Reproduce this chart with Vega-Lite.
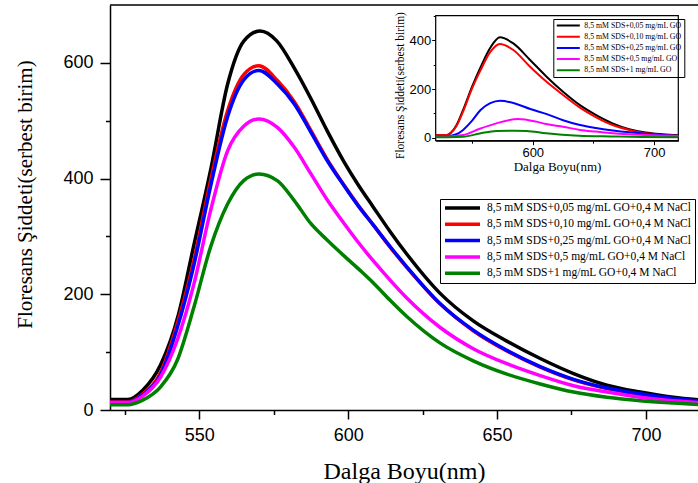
{
  "$schema": "https://vega.github.io/schema/vega-lite/v6.json",
  "width": 588,
  "height": 405,
  "autosize": {"type": "none"},
  "padding": {"left": 110, "top": 5, "right": 0, "bottom": 73},
  "background": "white",
  "config": {
    "view": {"stroke": null},
    "axis": {"grid": false, "domainColor": "black", "tickColor": "black", "labelColor": "black", "titleColor": "black", "labelOverlap": false, "labelFlush": false}
  },
  "datasets": {
    "main": [
      {"s": "8,5 mM SDS+0,05 mg/mL GO+0,4 M NaCl", "w": 520, "v": 18},
      {"s": "8,5 mM SDS+0,05 mg/mL GO+0,4 M NaCl", "w": 526, "v": 18},
      {"s": "8,5 mM SDS+0,05 mg/mL GO+0,4 M NaCl", "w": 531, "v": 34},
      {"s": "8,5 mM SDS+0,05 mg/mL GO+0,4 M NaCl", "w": 537, "v": 78},
      {"s": "8,5 mM SDS+0,05 mg/mL GO+0,4 M NaCl", "w": 543, "v": 165},
      {"s": "8,5 mM SDS+0,05 mg/mL GO+0,4 M NaCl", "w": 548, "v": 281},
      {"s": "8,5 mM SDS+0,05 mg/mL GO+0,4 M NaCl", "w": 554, "v": 420},
      {"s": "8,5 mM SDS+0,05 mg/mL GO+0,4 M NaCl", "w": 559.5, "v": 563},
      {"s": "8,5 mM SDS+0,05 mg/mL GO+0,4 M NaCl", "w": 565, "v": 638},
      {"s": "8,5 mM SDS+0,05 mg/mL GO+0,4 M NaCl", "w": 570.4, "v": 655},
      {"s": "8,5 mM SDS+0,05 mg/mL GO+0,4 M NaCl", "w": 576, "v": 638},
      {"s": "8,5 mM SDS+0,05 mg/mL GO+0,4 M NaCl", "w": 582, "v": 590},
      {"s": "8,5 mM SDS+0,05 mg/mL GO+0,4 M NaCl", "w": 587.5, "v": 538},
      {"s": "8,5 mM SDS+0,05 mg/mL GO+0,4 M NaCl", "w": 593, "v": 482},
      {"s": "8,5 mM SDS+0,05 mg/mL GO+0,4 M NaCl", "w": 598.7, "v": 428},
      {"s": "8,5 mM SDS+0,05 mg/mL GO+0,4 M NaCl", "w": 603.5, "v": 388},
      {"s": "8,5 mM SDS+0,05 mg/mL GO+0,4 M NaCl", "w": 608.4, "v": 351},
      {"s": "8,5 mM SDS+0,05 mg/mL GO+0,4 M NaCl", "w": 614, "v": 309},
      {"s": "8,5 mM SDS+0,05 mg/mL GO+0,4 M NaCl", "w": 619.6, "v": 270},
      {"s": "8,5 mM SDS+0,05 mg/mL GO+0,4 M NaCl", "w": 630.8, "v": 202},
      {"s": "8,5 mM SDS+0,05 mg/mL GO+0,4 M NaCl", "w": 642, "v": 154},
      {"s": "8,5 mM SDS+0,05 mg/mL GO+0,4 M NaCl", "w": 653.3, "v": 119},
      {"s": "8,5 mM SDS+0,05 mg/mL GO+0,4 M NaCl", "w": 664.5, "v": 89},
      {"s": "8,5 mM SDS+0,05 mg/mL GO+0,4 M NaCl", "w": 675.7, "v": 63},
      {"s": "8,5 mM SDS+0,05 mg/mL GO+0,4 M NaCl", "w": 686.9, "v": 43},
      {"s": "8,5 mM SDS+0,05 mg/mL GO+0,4 M NaCl", "w": 698.1, "v": 31},
      {"s": "8,5 mM SDS+0,05 mg/mL GO+0,4 M NaCl", "w": 709.2, "v": 22},
      {"s": "8,5 mM SDS+0,05 mg/mL GO+0,4 M NaCl", "w": 717.5, "v": 17.6},
      {"s": "8,5 mM SDS+0,10 mg/mL GO+0,4 M NaCl", "w": 520, "v": 14},
      {"s": "8,5 mM SDS+0,10 mg/mL GO+0,4 M NaCl", "w": 526, "v": 14},
      {"s": "8,5 mM SDS+0,10 mg/mL GO+0,4 M NaCl", "w": 531, "v": 28},
      {"s": "8,5 mM SDS+0,10 mg/mL GO+0,4 M NaCl", "w": 537, "v": 65},
      {"s": "8,5 mM SDS+0,10 mg/mL GO+0,4 M NaCl", "w": 542.6, "v": 149},
      {"s": "8,5 mM SDS+0,10 mg/mL GO+0,4 M NaCl", "w": 548.2, "v": 259},
      {"s": "8,5 mM SDS+0,10 mg/mL GO+0,4 M NaCl", "w": 553.8, "v": 397},
      {"s": "8,5 mM SDS+0,10 mg/mL GO+0,4 M NaCl", "w": 559.5, "v": 517},
      {"s": "8,5 mM SDS+0,10 mg/mL GO+0,4 M NaCl", "w": 565, "v": 580},
      {"s": "8,5 mM SDS+0,10 mg/mL GO+0,4 M NaCl", "w": 570, "v": 595},
      {"s": "8,5 mM SDS+0,10 mg/mL GO+0,4 M NaCl", "w": 576.3, "v": 569},
      {"s": "8,5 mM SDS+0,10 mg/mL GO+0,4 M NaCl", "w": 581.9, "v": 533},
      {"s": "8,5 mM SDS+0,10 mg/mL GO+0,4 M NaCl", "w": 587.5, "v": 483},
      {"s": "8,5 mM SDS+0,10 mg/mL GO+0,4 M NaCl", "w": 593.1, "v": 432},
      {"s": "8,5 mM SDS+0,10 mg/mL GO+0,4 M NaCl", "w": 598.7, "v": 388},
      {"s": "8,5 mM SDS+0,10 mg/mL GO+0,4 M NaCl", "w": 603.5, "v": 353},
      {"s": "8,5 mM SDS+0,10 mg/mL GO+0,4 M NaCl", "w": 608.4, "v": 320},
      {"s": "8,5 mM SDS+0,10 mg/mL GO+0,4 M NaCl", "w": 614, "v": 282},
      {"s": "8,5 mM SDS+0,10 mg/mL GO+0,4 M NaCl", "w": 619.6, "v": 247},
      {"s": "8,5 mM SDS+0,10 mg/mL GO+0,4 M NaCl", "w": 630.8, "v": 184},
      {"s": "8,5 mM SDS+0,10 mg/mL GO+0,4 M NaCl", "w": 642, "v": 137},
      {"s": "8,5 mM SDS+0,10 mg/mL GO+0,4 M NaCl", "w": 653.3, "v": 102},
      {"s": "8,5 mM SDS+0,10 mg/mL GO+0,4 M NaCl", "w": 664.5, "v": 74},
      {"s": "8,5 mM SDS+0,10 mg/mL GO+0,4 M NaCl", "w": 675.7, "v": 52},
      {"s": "8,5 mM SDS+0,10 mg/mL GO+0,4 M NaCl", "w": 686.9, "v": 37},
      {"s": "8,5 mM SDS+0,10 mg/mL GO+0,4 M NaCl", "w": 698.1, "v": 27},
      {"s": "8,5 mM SDS+0,10 mg/mL GO+0,4 M NaCl", "w": 709.2, "v": 19},
      {"s": "8,5 mM SDS+0,10 mg/mL GO+0,4 M NaCl", "w": 717.5, "v": 15},
      {"s": "8,5 mM SDS+0,25 mg/mL GO+0,4 M NaCl", "w": 520, "v": 13},
      {"s": "8,5 mM SDS+0,25 mg/mL GO+0,4 M NaCl", "w": 526, "v": 13},
      {"s": "8,5 mM SDS+0,25 mg/mL GO+0,4 M NaCl", "w": 531, "v": 26},
      {"s": "8,5 mM SDS+0,25 mg/mL GO+0,4 M NaCl", "w": 537, "v": 61},
      {"s": "8,5 mM SDS+0,25 mg/mL GO+0,4 M NaCl", "w": 542.6, "v": 142},
      {"s": "8,5 mM SDS+0,25 mg/mL GO+0,4 M NaCl", "w": 548.2, "v": 251},
      {"s": "8,5 mM SDS+0,25 mg/mL GO+0,4 M NaCl", "w": 553.8, "v": 387},
      {"s": "8,5 mM SDS+0,25 mg/mL GO+0,4 M NaCl", "w": 559.5, "v": 507},
      {"s": "8,5 mM SDS+0,25 mg/mL GO+0,4 M NaCl", "w": 565, "v": 571},
      {"s": "8,5 mM SDS+0,25 mg/mL GO+0,4 M NaCl", "w": 570, "v": 587},
      {"s": "8,5 mM SDS+0,25 mg/mL GO+0,4 M NaCl", "w": 576.3, "v": 563},
      {"s": "8,5 mM SDS+0,25 mg/mL GO+0,4 M NaCl", "w": 581.9, "v": 529},
      {"s": "8,5 mM SDS+0,25 mg/mL GO+0,4 M NaCl", "w": 587.5, "v": 480},
      {"s": "8,5 mM SDS+0,25 mg/mL GO+0,4 M NaCl", "w": 593.1, "v": 430},
      {"s": "8,5 mM SDS+0,25 mg/mL GO+0,4 M NaCl", "w": 598.7, "v": 387},
      {"s": "8,5 mM SDS+0,25 mg/mL GO+0,4 M NaCl", "w": 603.5, "v": 352},
      {"s": "8,5 mM SDS+0,25 mg/mL GO+0,4 M NaCl", "w": 608.4, "v": 320},
      {"s": "8,5 mM SDS+0,25 mg/mL GO+0,4 M NaCl", "w": 614, "v": 283},
      {"s": "8,5 mM SDS+0,25 mg/mL GO+0,4 M NaCl", "w": 619.6, "v": 248},
      {"s": "8,5 mM SDS+0,25 mg/mL GO+0,4 M NaCl", "w": 630.8, "v": 184},
      {"s": "8,5 mM SDS+0,25 mg/mL GO+0,4 M NaCl", "w": 642, "v": 138},
      {"s": "8,5 mM SDS+0,25 mg/mL GO+0,4 M NaCl", "w": 653.3, "v": 103},
      {"s": "8,5 mM SDS+0,25 mg/mL GO+0,4 M NaCl", "w": 664.5, "v": 75},
      {"s": "8,5 mM SDS+0,25 mg/mL GO+0,4 M NaCl", "w": 675.7, "v": 53},
      {"s": "8,5 mM SDS+0,25 mg/mL GO+0,4 M NaCl", "w": 686.9, "v": 38},
      {"s": "8,5 mM SDS+0,25 mg/mL GO+0,4 M NaCl", "w": 698.1, "v": 28},
      {"s": "8,5 mM SDS+0,25 mg/mL GO+0,4 M NaCl", "w": 709.2, "v": 20},
      {"s": "8,5 mM SDS+0,25 mg/mL GO+0,4 M NaCl", "w": 717.5, "v": 16},
      {"s": "8,5 mM SDS+0,5 mg/mL GO+0,4 M NaCl", "w": 520, "v": 13},
      {"s": "8,5 mM SDS+0,5 mg/mL GO+0,4 M NaCl", "w": 526, "v": 13},
      {"s": "8,5 mM SDS+0,5 mg/mL GO+0,4 M NaCl", "w": 531, "v": 24},
      {"s": "8,5 mM SDS+0,5 mg/mL GO+0,4 M NaCl", "w": 537, "v": 57},
      {"s": "8,5 mM SDS+0,5 mg/mL GO+0,4 M NaCl", "w": 542.6, "v": 121},
      {"s": "8,5 mM SDS+0,5 mg/mL GO+0,4 M NaCl", "w": 548.2, "v": 218},
      {"s": "8,5 mM SDS+0,5 mg/mL GO+0,4 M NaCl", "w": 553.8, "v": 345},
      {"s": "8,5 mM SDS+0,5 mg/mL GO+0,4 M NaCl", "w": 559.5, "v": 448},
      {"s": "8,5 mM SDS+0,5 mg/mL GO+0,4 M NaCl", "w": 565, "v": 491},
      {"s": "8,5 mM SDS+0,5 mg/mL GO+0,4 M NaCl", "w": 570, "v": 503},
      {"s": "8,5 mM SDS+0,5 mg/mL GO+0,4 M NaCl", "w": 576.3, "v": 488},
      {"s": "8,5 mM SDS+0,5 mg/mL GO+0,4 M NaCl", "w": 581.9, "v": 454},
      {"s": "8,5 mM SDS+0,5 mg/mL GO+0,4 M NaCl", "w": 587.5, "v": 408},
      {"s": "8,5 mM SDS+0,5 mg/mL GO+0,4 M NaCl", "w": 593.1, "v": 362},
      {"s": "8,5 mM SDS+0,5 mg/mL GO+0,4 M NaCl", "w": 598.7, "v": 322},
      {"s": "8,5 mM SDS+0,5 mg/mL GO+0,4 M NaCl", "w": 603.5, "v": 289},
      {"s": "8,5 mM SDS+0,5 mg/mL GO+0,4 M NaCl", "w": 608.4, "v": 258},
      {"s": "8,5 mM SDS+0,5 mg/mL GO+0,4 M NaCl", "w": 614, "v": 225},
      {"s": "8,5 mM SDS+0,5 mg/mL GO+0,4 M NaCl", "w": 619.6, "v": 194},
      {"s": "8,5 mM SDS+0,5 mg/mL GO+0,4 M NaCl", "w": 630.8, "v": 143},
      {"s": "8,5 mM SDS+0,5 mg/mL GO+0,4 M NaCl", "w": 642, "v": 106},
      {"s": "8,5 mM SDS+0,5 mg/mL GO+0,4 M NaCl", "w": 653.3, "v": 80},
      {"s": "8,5 mM SDS+0,5 mg/mL GO+0,4 M NaCl", "w": 664.5, "v": 59.5},
      {"s": "8,5 mM SDS+0,5 mg/mL GO+0,4 M NaCl", "w": 675.7, "v": 42},
      {"s": "8,5 mM SDS+0,5 mg/mL GO+0,4 M NaCl", "w": 686.9, "v": 31},
      {"s": "8,5 mM SDS+0,5 mg/mL GO+0,4 M NaCl", "w": 698.1, "v": 22},
      {"s": "8,5 mM SDS+0,5 mg/mL GO+0,4 M NaCl", "w": 709.2, "v": 16},
      {"s": "8,5 mM SDS+0,5 mg/mL GO+0,4 M NaCl", "w": 717.5, "v": 13},
      {"s": "8,5 mM SDS+1 mg/mL GO+0,4 M NaCl", "w": 520, "v": 9},
      {"s": "8,5 mM SDS+1 mg/mL GO+0,4 M NaCl", "w": 526, "v": 9},
      {"s": "8,5 mM SDS+1 mg/mL GO+0,4 M NaCl", "w": 531, "v": 17},
      {"s": "8,5 mM SDS+1 mg/mL GO+0,4 M NaCl", "w": 537, "v": 40},
      {"s": "8,5 mM SDS+1 mg/mL GO+0,4 M NaCl", "w": 542.6, "v": 86},
      {"s": "8,5 mM SDS+1 mg/mL GO+0,4 M NaCl", "w": 548.2, "v": 178},
      {"s": "8,5 mM SDS+1 mg/mL GO+0,4 M NaCl", "w": 553.8, "v": 282},
      {"s": "8,5 mM SDS+1 mg/mL GO+0,4 M NaCl", "w": 559.5, "v": 356},
      {"s": "8,5 mM SDS+1 mg/mL GO+0,4 M NaCl", "w": 565, "v": 397},
      {"s": "8,5 mM SDS+1 mg/mL GO+0,4 M NaCl", "w": 570, "v": 408},
      {"s": "8,5 mM SDS+1 mg/mL GO+0,4 M NaCl", "w": 576.3, "v": 396},
      {"s": "8,5 mM SDS+1 mg/mL GO+0,4 M NaCl", "w": 581.9, "v": 362},
      {"s": "8,5 mM SDS+1 mg/mL GO+0,4 M NaCl", "w": 587.5, "v": 322},
      {"s": "8,5 mM SDS+1 mg/mL GO+0,4 M NaCl", "w": 593.1, "v": 293},
      {"s": "8,5 mM SDS+1 mg/mL GO+0,4 M NaCl", "w": 598.7, "v": 266},
      {"s": "8,5 mM SDS+1 mg/mL GO+0,4 M NaCl", "w": 604.3, "v": 240},
      {"s": "8,5 mM SDS+1 mg/mL GO+0,4 M NaCl", "w": 608.4, "v": 220},
      {"s": "8,5 mM SDS+1 mg/mL GO+0,4 M NaCl", "w": 614, "v": 190},
      {"s": "8,5 mM SDS+1 mg/mL GO+0,4 M NaCl", "w": 619.6, "v": 162},
      {"s": "8,5 mM SDS+1 mg/mL GO+0,4 M NaCl", "w": 630.8, "v": 116},
      {"s": "8,5 mM SDS+1 mg/mL GO+0,4 M NaCl", "w": 642, "v": 85},
      {"s": "8,5 mM SDS+1 mg/mL GO+0,4 M NaCl", "w": 653.3, "v": 62},
      {"s": "8,5 mM SDS+1 mg/mL GO+0,4 M NaCl", "w": 664.5, "v": 45},
      {"s": "8,5 mM SDS+1 mg/mL GO+0,4 M NaCl", "w": 675.7, "v": 31},
      {"s": "8,5 mM SDS+1 mg/mL GO+0,4 M NaCl", "w": 686.9, "v": 22},
      {"s": "8,5 mM SDS+1 mg/mL GO+0,4 M NaCl", "w": 698.1, "v": 16},
      {"s": "8,5 mM SDS+1 mg/mL GO+0,4 M NaCl", "w": 709.2, "v": 12},
      {"s": "8,5 mM SDS+1 mg/mL GO+0,4 M NaCl", "w": 717.5, "v": 9.5}
    ],
    "inset": [
      {"s": "8,5 mM SDS+0,05 mg/mL GO", "w": 520, "v": 10},
      {"s": "8,5 mM SDS+0,05 mg/mL GO", "w": 528, "v": 10},
      {"s": "8,5 mM SDS+0,05 mg/mL GO", "w": 537, "v": 50},
      {"s": "8,5 mM SDS+0,05 mg/mL GO", "w": 542.6, "v": 114},
      {"s": "8,5 mM SDS+0,05 mg/mL GO", "w": 550, "v": 210},
      {"s": "8,5 mM SDS+0,05 mg/mL GO", "w": 557, "v": 290},
      {"s": "8,5 mM SDS+0,05 mg/mL GO", "w": 565, "v": 370},
      {"s": "8,5 mM SDS+0,05 mg/mL GO", "w": 573, "v": 413},
      {"s": "8,5 mM SDS+0,05 mg/mL GO", "w": 584, "v": 388},
      {"s": "8,5 mM SDS+0,05 mg/mL GO", "w": 597.8, "v": 320},
      {"s": "8,5 mM SDS+0,05 mg/mL GO", "w": 611.4, "v": 251},
      {"s": "8,5 mM SDS+0,05 mg/mL GO", "w": 625, "v": 189},
      {"s": "8,5 mM SDS+0,05 mg/mL GO", "w": 638.6, "v": 135},
      {"s": "8,5 mM SDS+0,05 mg/mL GO", "w": 652.3, "v": 93},
      {"s": "8,5 mM SDS+0,05 mg/mL GO", "w": 665.8, "v": 59},
      {"s": "8,5 mM SDS+0,05 mg/mL GO", "w": 679.5, "v": 35},
      {"s": "8,5 mM SDS+0,05 mg/mL GO", "w": 693, "v": 21},
      {"s": "8,5 mM SDS+0,05 mg/mL GO", "w": 707, "v": 14},
      {"s": "8,5 mM SDS+0,05 mg/mL GO", "w": 720, "v": 10},
      {"s": "8,5 mM SDS+0,10 mg/mL GO", "w": 520, "v": 10},
      {"s": "8,5 mM SDS+0,10 mg/mL GO", "w": 528, "v": 10},
      {"s": "8,5 mM SDS+0,10 mg/mL GO", "w": 537, "v": 47},
      {"s": "8,5 mM SDS+0,10 mg/mL GO", "w": 542.6, "v": 108},
      {"s": "8,5 mM SDS+0,10 mg/mL GO", "w": 550, "v": 203},
      {"s": "8,5 mM SDS+0,10 mg/mL GO", "w": 557, "v": 278},
      {"s": "8,5 mM SDS+0,10 mg/mL GO", "w": 565, "v": 353},
      {"s": "8,5 mM SDS+0,10 mg/mL GO", "w": 573, "v": 386},
      {"s": "8,5 mM SDS+0,10 mg/mL GO", "w": 584, "v": 361},
      {"s": "8,5 mM SDS+0,10 mg/mL GO", "w": 597.8, "v": 292},
      {"s": "8,5 mM SDS+0,10 mg/mL GO", "w": 611.4, "v": 230},
      {"s": "8,5 mM SDS+0,10 mg/mL GO", "w": 625, "v": 176},
      {"s": "8,5 mM SDS+0,10 mg/mL GO", "w": 638.6, "v": 125},
      {"s": "8,5 mM SDS+0,10 mg/mL GO", "w": 652.3, "v": 84},
      {"s": "8,5 mM SDS+0,10 mg/mL GO", "w": 665.8, "v": 52},
      {"s": "8,5 mM SDS+0,10 mg/mL GO", "w": 679.5, "v": 32},
      {"s": "8,5 mM SDS+0,10 mg/mL GO", "w": 693, "v": 18},
      {"s": "8,5 mM SDS+0,10 mg/mL GO", "w": 707, "v": 12},
      {"s": "8,5 mM SDS+0,10 mg/mL GO", "w": 720, "v": 7},
      {"s": "8,5 mM SDS+0,25 mg/mL GO", "w": 520, "v": 7},
      {"s": "8,5 mM SDS+0,25 mg/mL GO", "w": 530, "v": 7},
      {"s": "8,5 mM SDS+0,25 mg/mL GO", "w": 537, "v": 14},
      {"s": "8,5 mM SDS+0,25 mg/mL GO", "w": 542.6, "v": 32},
      {"s": "8,5 mM SDS+0,25 mg/mL GO", "w": 550, "v": 70},
      {"s": "8,5 mM SDS+0,25 mg/mL GO", "w": 557, "v": 114},
      {"s": "8,5 mM SDS+0,25 mg/mL GO", "w": 565, "v": 142},
      {"s": "8,5 mM SDS+0,25 mg/mL GO", "w": 573, "v": 152},
      {"s": "8,5 mM SDS+0,25 mg/mL GO", "w": 586, "v": 140},
      {"s": "8,5 mM SDS+0,25 mg/mL GO", "w": 598, "v": 118},
      {"s": "8,5 mM SDS+0,25 mg/mL GO", "w": 611, "v": 98},
      {"s": "8,5 mM SDS+0,25 mg/mL GO", "w": 625, "v": 72},
      {"s": "8,5 mM SDS+0,25 mg/mL GO", "w": 639, "v": 52},
      {"s": "8,5 mM SDS+0,25 mg/mL GO", "w": 652, "v": 40},
      {"s": "8,5 mM SDS+0,25 mg/mL GO", "w": 666, "v": 30},
      {"s": "8,5 mM SDS+0,25 mg/mL GO", "w": 680, "v": 22},
      {"s": "8,5 mM SDS+0,25 mg/mL GO", "w": 693, "v": 16},
      {"s": "8,5 mM SDS+0,25 mg/mL GO", "w": 707, "v": 11},
      {"s": "8,5 mM SDS+0,25 mg/mL GO", "w": 720, "v": 7},
      {"s": "8,5 mM SDS+0,5 mg/mL GO", "w": 520, "v": 5},
      {"s": "8,5 mM SDS+0,5 mg/mL GO", "w": 530, "v": 5},
      {"s": "8,5 mM SDS+0,5 mg/mL GO", "w": 542.6, "v": 11},
      {"s": "8,5 mM SDS+0,5 mg/mL GO", "w": 556.3, "v": 37},
      {"s": "8,5 mM SDS+0,5 mg/mL GO", "w": 570, "v": 59},
      {"s": "8,5 mM SDS+0,5 mg/mL GO", "w": 588, "v": 77},
      {"s": "8,5 mM SDS+0,5 mg/mL GO", "w": 603, "v": 66},
      {"s": "8,5 mM SDS+0,5 mg/mL GO", "w": 611, "v": 56},
      {"s": "8,5 mM SDS+0,5 mg/mL GO", "w": 625, "v": 45},
      {"s": "8,5 mM SDS+0,5 mg/mL GO", "w": 639, "v": 32},
      {"s": "8,5 mM SDS+0,5 mg/mL GO", "w": 652, "v": 25},
      {"s": "8,5 mM SDS+0,5 mg/mL GO", "w": 666, "v": 18},
      {"s": "8,5 mM SDS+0,5 mg/mL GO", "w": 679, "v": 14},
      {"s": "8,5 mM SDS+0,5 mg/mL GO", "w": 693, "v": 11},
      {"s": "8,5 mM SDS+0,5 mg/mL GO", "w": 720, "v": 7},
      {"s": "8,5 mM SDS+1 mg/mL GO", "w": 520, "v": 2},
      {"s": "8,5 mM SDS+1 mg/mL GO", "w": 530, "v": 2},
      {"s": "8,5 mM SDS+1 mg/mL GO", "w": 542.6, "v": 4},
      {"s": "8,5 mM SDS+1 mg/mL GO", "w": 556.3, "v": 17},
      {"s": "8,5 mM SDS+1 mg/mL GO", "w": 570, "v": 28},
      {"s": "8,5 mM SDS+1 mg/mL GO", "w": 585, "v": 29},
      {"s": "8,5 mM SDS+1 mg/mL GO", "w": 595, "v": 28},
      {"s": "8,5 mM SDS+1 mg/mL GO", "w": 611, "v": 18},
      {"s": "8,5 mM SDS+1 mg/mL GO", "w": 638, "v": 8},
      {"s": "8,5 mM SDS+1 mg/mL GO", "w": 665, "v": 5},
      {"s": "8,5 mM SDS+1 mg/mL GO", "w": 690, "v": 3},
      {"s": "8,5 mM SDS+1 mg/mL GO", "w": 720, "v": 2}
    ]
  },
  "layer": [
    {
      "layer": [
        {
          "data": {"name": "main"},
          "mark": {"type": "line", "strokeWidth": 3.5, "interpolate": "monotone", "clip": true},
          "encoding": {
            "x": {
              "field": "w", "type": "quantitative",
              "scale": {"domain": [520, 717.5], "nice": false, "zero": false},
              "axis": {
                "orient": "bottom",
                "values": [525, 550, 575, 600, 625, 650, 675, 700],
                "labelExpr": "datum.value % 50 === 0 ? datum.label : ''",
                "tickSize": {"condition": {"test": "datum.value % 50 === 0", "value": 9}, "value": 4.5},
                "tickWidth": 1.5, "domainWidth": 1.5,
                "title": "Dalga Boyu(nm)", "titleFont": "Liberation Serif", "titleFontSize": 24, "titleFontWeight": "normal", "titlePadding": 15,
                "labelFont": "Liberation Sans", "labelFontSize": 18, "labelPadding": 7
              }
            },
            "y": {
              "field": "v", "type": "quantitative",
              "scale": {"domain": [0, 700], "nice": false, "zero": false},
              "axis": {
                "orient": "left",
                "values": [0, 100, 200, 300, 400, 500, 600],
                "labelExpr": "datum.value % 200 === 0 ? datum.label : ''",
                "tickSize": {"condition": {"test": "datum.value % 200 === 0", "value": 10}, "value": 4.5},
                "tickWidth": 1.5, "domainWidth": 1.5,
                "title": "Floresans Şiddeti(serbest birim)", "titleFont": "Liberation Serif", "titleFontSize": 21, "titleFontWeight": "normal", "titlePadding": 27, "titleY": 189,
                "labelFont": "Liberation Sans", "labelFontSize": 18, "labelPadding": 7
              }
            },
            "color": {
              "field": "s", "type": "nominal",
              "scale": {
                "domain": ["8,5 mM SDS+0,05 mg/mL GO+0,4 M NaCl", "8,5 mM SDS+0,10 mg/mL GO+0,4 M NaCl", "8,5 mM SDS+0,25 mg/mL GO+0,4 M NaCl", "8,5 mM SDS+0,5 mg/mL GO+0,4 M NaCl", "8,5 mM SDS+1 mg/mL GO+0,4 M NaCl"],
                "range": ["#000000", "#ff0000", "#0000ff", "#ff00ff", "#008000"]
              },
              "legend": {
                "orient": "none", "legendX": 330, "legendY": 194, "title": null,
                "symbolType": "stroke", "symbolSize": 1225, "symbolStrokeWidth": 3.5, "clipHeight": 12,
                "rowPadding": 4.3, "padding": 3, "labelOffset": 5, "labelLimit": 0,
                "labelFont": "Liberation Serif", "labelFontSize": 11.5, "labelColor": "black",
                "strokeColor": "black"
              }
            }
          }
        },
        {
          "data": {"values": [{}]},
          "mark": {"type": "rule", "strokeWidth": 1.5, "color": "black"},
          "encoding": {"y": {"datum": 700, "type": "quantitative"}}
        }
      ]
    },
    {
      "layer": [
        {
          "data": {"values": [{}]},
          "mark": {"type": "rect", "fill": "white", "stroke": "black", "strokeWidth": 1.2},
          "encoding": {
            "x": {"datum": 520, "type": "quantitative", "scale": {"domain": [520, 720], "range": [325.7, 568.3], "nice": false, "zero": false}},
            "x2": {"datum": 720},
            "y": {"datum": -12, "type": "quantitative", "scale": {"domain": [-12, 502], "range": [135.6, 10.7], "nice": false, "zero": false}},
            "y2": {"datum": 502}
          }
        },
        {
          "data": {"name": "inset"},
          "mark": {"type": "line", "strokeWidth": 2, "interpolate": "monotone"},
          "encoding": {
            "x": {
              "field": "w", "type": "quantitative",
              "scale": {"domain": [520, 720], "range": [325.7, 568.3], "nice": false, "zero": false},
              "axis": {
                "orient": "bottom", "offset": -269.3,
                "values": [550, 600, 650, 700],
                "labelExpr": "datum.value % 100 === 0 ? datum.label : ''",
                "tickSize": {"condition": {"test": "datum.value % 100 === 0", "value": 4}, "value": 2.5},
                "tickWidth": 1, "domainWidth": 1.2,
                "title": "Dalga Boyu(nm)", "titleFont": "Liberation Serif", "titleFontSize": 13, "titleFontWeight": "normal", "titlePadding": 1,
                "labelFont": "Liberation Sans", "labelFontSize": 13, "labelPadding": 1.5
              }
            },
            "y": {
              "field": "v", "type": "quantitative",
              "scale": {"domain": [-12, 502], "range": [135.6, 10.7], "nice": false, "zero": false},
              "axis": {
                "orient": "left", "offset": -325.7,
                "values": [0, 100, 200, 300, 400, 500],
                "labelExpr": "datum.value % 200 === 0 ? datum.label : ''",
                "tickSize": {"condition": {"test": "datum.value % 200 === 0", "value": 4}, "value": 2.5},
                "tickWidth": 1, "domainWidth": 1.2,
                "title": "Floresans Şiddeti(serbest birim)", "titleFont": "Liberation Serif", "titleFontSize": 11.5, "titleFontWeight": "normal", "titlePadding": 4, "titleY": 80,
                "labelFont": "Liberation Sans", "labelFontSize": 13, "labelPadding": 1
              }
            },
            "color": {
              "field": "s", "type": "nominal",
              "scale": {
                "domain": ["8,5 mM SDS+0,05 mg/mL GO", "8,5 mM SDS+0,10 mg/mL GO", "8,5 mM SDS+0,25 mg/mL GO", "8,5 mM SDS+0,5 mg/mL GO", "8,5 mM SDS+1 mg/mL GO"],
                "range": ["#000000", "#ff0000", "#0000ff", "#ff00ff", "#008000"]
              },
              "legend": {
                "orient": "none", "legendX": 443.3, "legendY": 14, "title": null,
                "symbolType": "stroke", "symbolSize": 529, "symbolStrokeWidth": 2, "clipHeight": 8,
                "rowPadding": 3.2, "padding": 2.5, "labelOffset": 3.5, "labelLimit": 0,
                "labelFont": "Liberation Serif", "labelFontSize": 7.8, "labelColor": "black",
                "strokeColor": "black"
              }
            }
          }
        }
      ]
    }
  ],
  "resolve": {
    "scale": {"x": "independent", "y": "independent", "color": "independent"},
    "axis": {"x": "independent", "y": "independent"},
    "legend": {"color": "independent"}
  }
}
